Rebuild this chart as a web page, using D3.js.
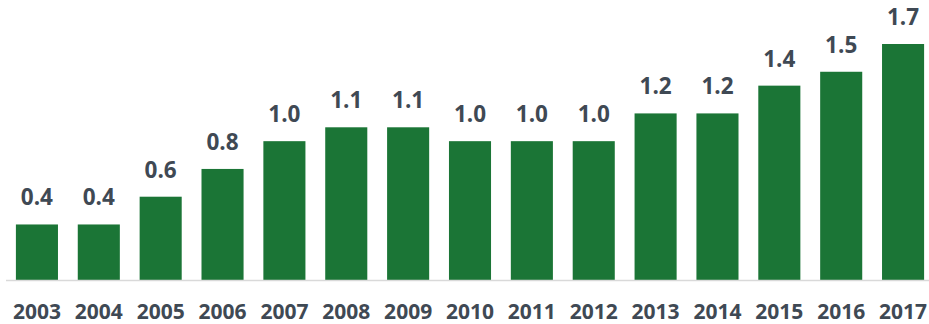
<!DOCTYPE html>
<html lang="en">
    <head>
        <meta charset="utf-8">
        <title>Bar chart 2003-2017</title>
        <script src="https://d3js.org/d3.v7.min.js"></script>
        <style type="text/css">
        body {
            margin: 0;
            background-color: white;
        }
        text {
            font-family: "Open Sans", Lato, sans-serif;
            font-weight: bold;
            fill: #3f4954;
        }
        </style>
    </head>
    <body>
        <svg width="929" height="324"></svg>
        <script type="text/javascript">
            // data
            const years = ["2003", "2004", "2005", "2006", "2007", "2008", "2009", "2010",
                           "2011", "2012", "2013", "2014", "2015", "2016", "2017"];
            const values = [0.4, 0.4, 0.6, 0.8, 1.0, 1.1, 1.1, 1.0, 1.0, 1.0, 1.2, 1.2, 1.4, 1.5, 1.7];

            const svg = d3.select("svg");
            const w = 929;
            const baseY = 280;

            const x = d3.scaleBand()
                        .domain(years)
                        .range([6, 934])
                        .paddingInner(0.32)
                        .paddingOuter(0.16);

            const y = d3.scaleLinear()
                        .domain([0, 1.7])
                        .range([baseY, 44]);

            const rows = years.map((yr, i) => ({year: yr, value: values[i]}));

            // bars
            svg.selectAll("rect")
               .data(rows)
               .enter()
               .append("rect")
               .attr("x", d => x(d.year))
               .attr("y", d => y(d.value))
               .attr("width", x.bandwidth())
               .attr("height", d => baseY - y(d.value))
               .style("fill", "#1b7536");

            // baseline
            svg.append("line")
               .attr("x1", 6)
               .attr("x2", w)
               .attr("y1", baseY + 0.5)
               .attr("y2", baseY + 0.5)
               .style("stroke", "#d9d9d9")
               .style("stroke-width", 1.5);

            // value labels
            svg.selectAll(".val")
               .data(rows)
               .enter()
               .append("text")
               .attr("class", "val")
               .attr("x", d => x(d.year) + x.bandwidth() / 2)
               .attr("y", d => y(d.value) - 19)
               .attr("text-anchor", "middle")
               .style("font-size", "22.5px")
               .text(d => d3.format(".1f")(d.value));

            // x axis labels
            const xAxis = d3.axisBottom(x).tickSize(0).tickPadding(0);
            const g = svg.append("g")
                         .attr("transform", `translate(0,${baseY})`)
                         .call(xAxis);
            g.select(".domain").remove();
            g.attr("font-family", null).attr("font-size", null);
            g.selectAll("text")
             .attr("dy", null)
             .attr("y", 38.5)
             .style("font-size", "21px")
             .style("fill", "#3f4954");
        </script>
    </body>
</html>
